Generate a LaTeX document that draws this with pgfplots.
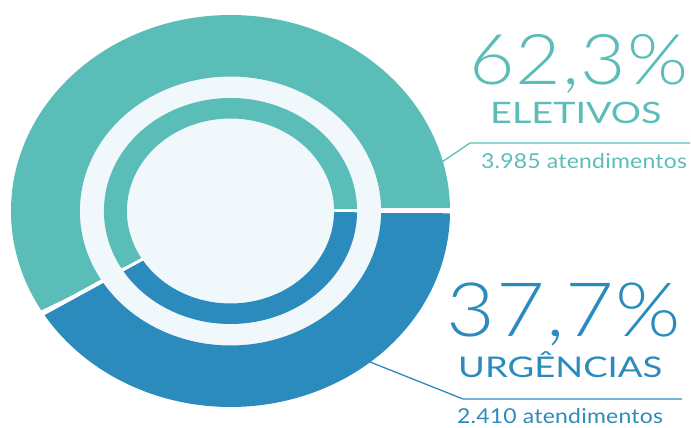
\documentclass[border=0pt]{standalone}
\usepackage{pgfplots}
\pgfplotsset{compat=1.18}
\usepackage{graphicx}
\usepackage{fontspec}
\setmainfont{Lato}
\newfontfamily\bignum{Lato Light}[LetterSpace=1.5]
\newfontfamily\bigword{Lato}
\newfontfamily\smallfont{Lato}[LetterSpace=1]
\newcommand{\wide}[1]{\scalebox{1.12}[1]{#1}}
\newcommand{\wider}[1]{\scalebox{1.28}[1]{#1}}
\definecolor{cteal}{HTML}{5ABDB8}
\definecolor{cblue}{HTML}{2C8BBD}
\definecolor{clight}{HTML}{F0F8FC}
% annular sector: color, angle0, angle1, Router, Rinner
\newcommand{\ring}[5]{%
\addplot[fill=#1, draw=none, domain=0:2, samples=401, variable=\t]
 ({230.5+1.12*(\t<1 ? #4 : #5)*cos((\t<1 ? #2+(#3-#2)*\t : #3-(#3-#2)*(\t-1)))},
  {217+(\t<1 ? #4 : #5)*sin((\t<1 ? #2+(#3-#2)*\t : #3-(#3-#2)*(\t-1)))});}
\begin{document}
\begin{tikzpicture}
\begin{axis}[scale only axis, width=691pt, height=428pt,
  xmin=0, xmax=691, ymin=0, ymax=428, axis lines=none, clip=false]
\path (axis cs:0,0) rectangle (axis cs:691,428);
% background light disc
\addplot[fill=clight, draw=none, domain=0:360, samples=181, variable=\t]
 ({230.5+1.12*135*cos(\t)},{217+135*sin(\t)});
% outer ring: ELETIVOS 62,3% / URGENCIAS 37,7%
\ring{cteal}{0}{211.5}{196}{134.5}
\ring{cblue}{211.5}{360}{196}{134.5}
% inner ring
\ring{cteal}{0}{211.5}{113}{92.5}
\ring{cblue}{211.5}{360}{113}{92.5}
% separators
\addplot[white, line width=5pt] coordinates {(230.5+1.12*134,217) (230.5+1.12*197,217)};
\addplot[white, line width=3pt] coordinates {(230.5+1.12*92,217) (230.5+1.12*113.5,217)};
\addplot[white, line width=4pt] coordinates {({230.5+1.12*134*cos(211.5)},{217+134*sin(211.5)}) ({230.5+1.12*197*cos(211.5)},{217+197*sin(211.5)})};
\addplot[white, line width=3pt] coordinates {({230.5+1.12*92*cos(211.5)},{217+92*sin(211.5)}) ({230.5+1.12*113.5*cos(211.5)},{217+113.5*sin(211.5)})};
% leader lines
\addplot[cteal, line width=1.3pt] coordinates {(442,266) (470,285) (690,285)};
\addplot[cblue, line width=1.3pt] coordinates {(370,66) (463,29) (682,29)};
% texts
\node[anchor=base west, inner sep=0pt, text=cteal, font=\bignum\fontsize{70}{70}\selectfont] at (axis cs:469,343) {\wide{62,3\%}};
\node[anchor=base west, inner sep=0pt, text=cteal, font=\bigword\fontsize{29.5}{29.5}\selectfont] at (axis cs:490,304) {\wider{ELETIVOS}};
\node[anchor=base west, inner sep=0pt, text=cteal, font=\smallfont\fontsize{20.5}{20.5}\selectfont] at (axis cs:481,259) {\wide{3.985 atendimentos}};
\node[anchor=base west, inner sep=0pt, text=cblue, font=\bignum\fontsize{75}{75}\selectfont] at (axis cs:446,91) {\wide{37,7\%}};
\node[anchor=base west, inner sep=0pt, text=cblue, font=\bigword\fontsize{28.5}{28.5}\selectfont] at (axis cs:458,50) {\wider{URGÊNCIAS}};
\node[anchor=base west, inner sep=0pt, text=cblue, font=\smallfont\fontsize{20.5}{20.5}\selectfont] at (axis cs:457,4) {\wide{2.410 atendimentos}};
\end{axis}
\end{tikzpicture}
\end{document}
